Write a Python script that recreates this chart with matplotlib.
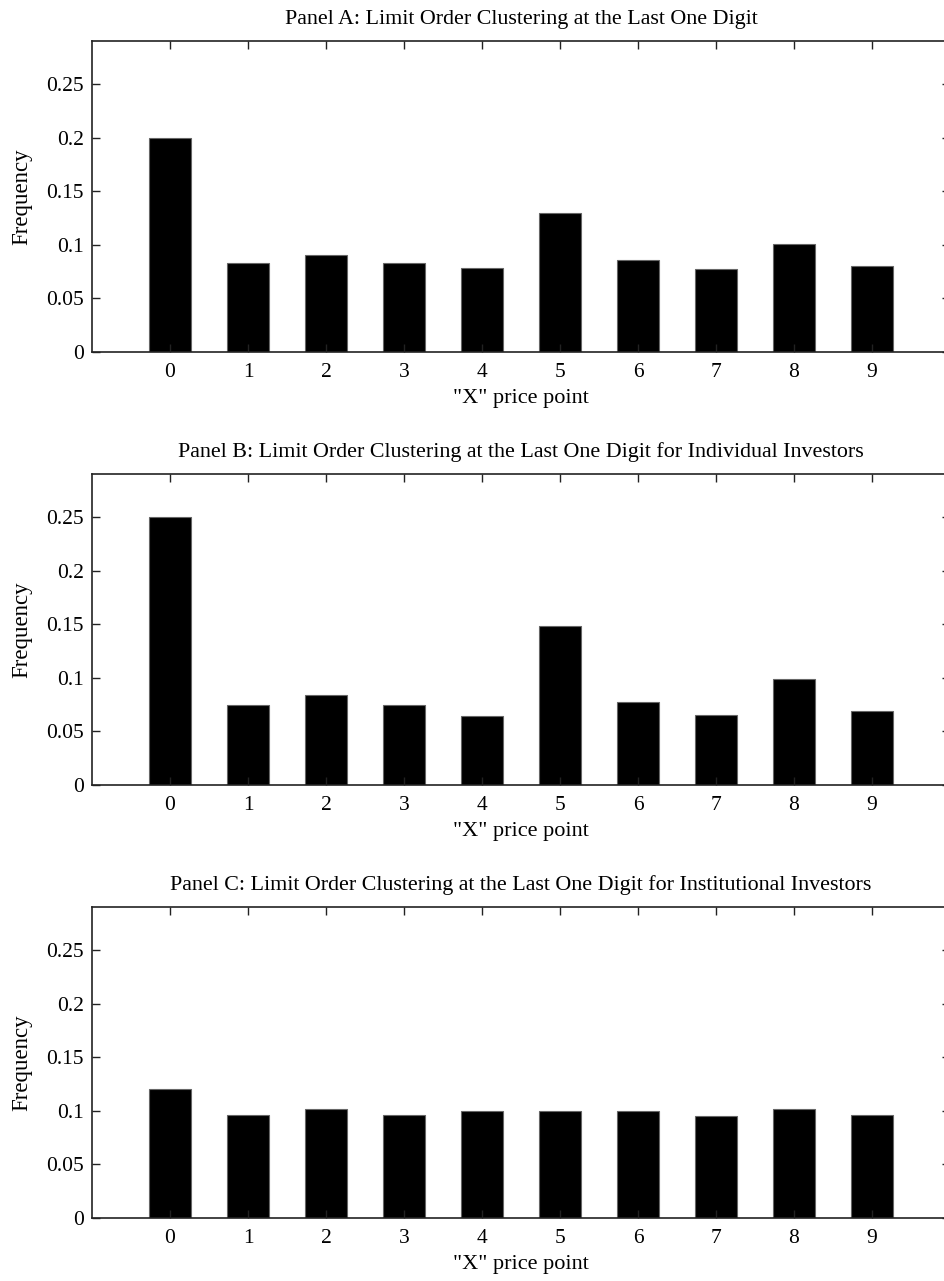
import matplotlib
matplotlib.use("Agg")
import matplotlib.pyplot as plt
import numpy as np

plt.rcParams['font.family'] = ['Liberation Serif', 'DejaVu Serif']

digits = [0, 1, 2, 3, 4, 5, 6, 7, 8, 9]
panel_a = [0.200, 0.083, 0.090, 0.083, 0.078, 0.130, 0.086, 0.077, 0.101, 0.080]
panel_b = [0.250, 0.075, 0.084, 0.075, 0.064, 0.148, 0.077, 0.065, 0.099, 0.069]
panel_c = [0.120, 0.096, 0.102, 0.096, 0.100, 0.100, 0.100, 0.095, 0.102, 0.096]
titles = [
    "Panel A: Limit Order Clustering at the Last One Digit",
    "Panel B: Limit Order Clustering at the Last One Digit for Individual Investors",
    "Panel C: Limit Order Clustering at the Last One Digit for Institutional Investors",
]
yticks = [0, 0.05, 0.1, 0.15, 0.2, 0.25]
ytick_labels = ["0", "0.05", "0.1", "0.15", "0.2", "0.25"]

W, H = 944, 1281
fig = plt.figure(figsize=(W / 100, H / 100), dpi=100)

bottoms_px = [352, 785, 1218]
ax_h = 311
left_px = 92
width_px = 11 * 78

for data, title, bpx in zip([panel_a, panel_b, panel_c], titles, bottoms_px):
    ax = fig.add_axes([left_px / W, 1 - bpx / H, width_px / W, ax_h / H])
    ax.bar(digits, data, width=0.53, color='black', edgecolor='#666666', linewidth=0.8)
    ax.set_xlim(-1, 10)
    ax.set_ylim(0, 0.29)
    ax.set_xticks(digits)
    ax.set_xticklabels([str(d) for d in digits])
    ax.set_yticks(yticks)
    ax.set_yticklabels(ytick_labels)
    ax.tick_params(direction='in', length=6, width=1, top=True, right=True,
                   labelsize=15.5, pad=6, colors='#222222', labelcolor='black')
    ax.tick_params(axis='x', pad=8)
    for s in ax.spines.values():
        s.set_linewidth(1.2)
        s.set_color('#222222')
    ax.set_title(title, fontsize=15.8, pad=12)
    ax.set_xlabel('"X" price point', fontsize=16, labelpad=5)
    ax.set_ylabel('Frequency', fontsize=16.5, labelpad=10)

fig.savefig("out.png", dpi=100)
